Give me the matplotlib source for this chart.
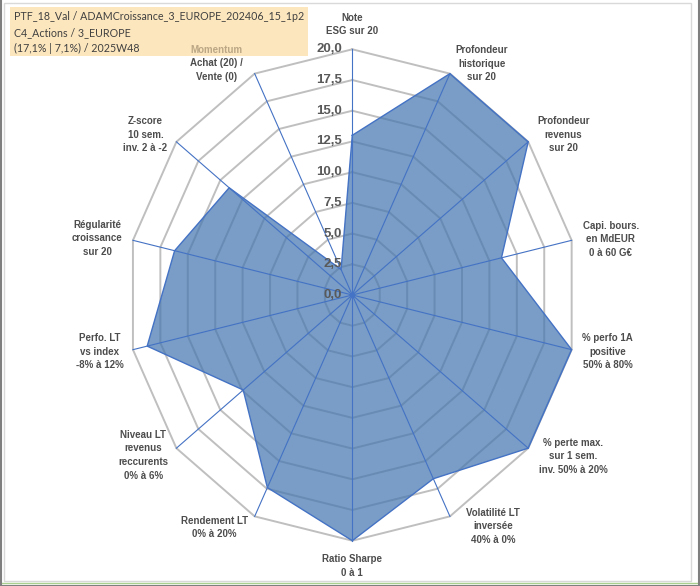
import numpy as np
import matplotlib
matplotlib.use('Agg')
import matplotlib.pyplot as plt
from matplotlib.patches import Rectangle
from matplotlib.lines import Line2D

# ---------------- data ----------------
categories = [
    "Note\nESG sur 20",
    "Profondeur\nhistorique\nsur 20",
    "Profondeur\nrevenus\nsur 20",
    "Capi. bours.\nen MdEUR\n0 à 60 G€",
    "% perfo 1A\npositive\n50% à 80%",
    "% perte max.\nsur 1 sem.\ninv. 50% à 20%",
    "Volatilité LT\ninversée\n40% à 0%",
    "Ratio Sharpe\n0 à 1",
    "Rendement LT\n0% à 20%",
    "Niveau LT\nrevenus\nreccurents\n0% à 6%",
    "Perfo. LT\nvs index\n-8% à 12%",
    "Régularité\ncroissance\nsur 20",
    "Z-score\n10 sem.\ninv. 2 à -2",
    "Momentum\nAchat (20) /\nVente (0)",
]
values = [13.0, 20.0, 20.0, 13.6, 20.0, 20.0, 16.6, 20.0, 17.4, 12.4, 18.7, 16.2, 14.0, 2.3]
ticks = [0.0, 2.5, 5.0, 7.5, 10.0, 12.5, 15.0, 17.5, 20.0]
tick_labels = ["0,0", "2,5", "5,0", "7,5", "10,0", "12,5", "15,0", "17,5", "20,0"]
title_lines = [
    "PTF_18_Val / ADAMCroissance_3_EUROPE_202406_15_1p2",
    "C4_Actions / 3_EUROPE",
    "(17,1% | 7,1%) / 2025W48",
]

# ---------------- layout ----------------
W, H = 700, 586
fig = plt.figure(figsize=(W / 100, H / 100), dpi=100)
fig.patch.set_facecolor('white')

# title box (behind everything)
fig.patches.append(Rectangle((10 / W, 1 - 56 / H), 298 / W, 49 / H, transform=fig.transFigure,
                             facecolor='#FCE6BE', edgecolor='none', zorder=-5))

cx, cy = 352.3, 295.0
rx, ry = 225.0, 245.7
ax = fig.add_axes([(cx - rx) / W, 1 - (cy + ry) / H, 2 * rx / W, 2 * ry / H],
                  projection='polar')
ax.set_zorder(1)
ax.set_aspect('auto')
ax.set_theta_zero_location('N')
ax.set_theta_direction(-1)
ax.set_ylim(0, 20)
ax.grid(False)
ax.set_xticks([])
ax.set_yticks([])
ax.spines['polar'].set_visible(False)
ax.patch.set_visible(False)

n = len(categories)
theta = np.arange(n) * 2 * np.pi / n
theta_c = np.append(theta, theta[0])

grid_col = '#BFBFBF'
axis_col = '#4472C4'
for r in ticks[1:]:
    ax.plot(theta_c, [r] * (n + 1), color=grid_col, lw=1.4, zorder=1, clip_on=False)

vals_c = np.append(values, values[0])
ax.fill(theta_c, vals_c, color='#4677B0', alpha=0.72, zorder=2, lw=0)
ax.plot(theta_c, vals_c, color=axis_col, lw=1.0, zorder=4, clip_on=False)

for t in theta:
    ax.plot([t, t], [0, 20], color=axis_col, lw=0.8, zorder=3, clip_on=False)
ax.plot([0], [0], marker='o', ms=3, color=axis_col, zorder=5)

# tick labels along the top axis
for r, lab in zip(ticks, tick_labels):
    ax.annotate(lab, xy=(0, r), xytext=(-10, 0), textcoords='offset pixels',
                ha='right', va='center', fontsize=9.5, fontweight='bold',
                color='#595959', family='Liberation Sans', annotation_clip=False, zorder=6)

# category labels (offsets in pixels from the axis end)
offsets = [(0, 25), (32, 10), (35, 7), (39, 1), (36, -2), (45, -8), (43, -10),
           (0, -25), (-40, -11), (-33, -7), (-33, -2), (-36, 2), (-31, 7), (-38, 10)]
lab_col = '#4D4D4D'
for i, (t, lab, off) in enumerate(zip(theta, categories, offsets)):
    if i == n - 1:
        first, rest = lab.split('\n', 1)
        ax.annotate(rest, xy=(t, 20), xytext=(off[0], off[1] - 6.5), textcoords='offset pixels',
                    ha='center', va='center', fontsize=7, fontweight='bold', color=lab_col,
                    family='Liberation Sans', annotation_clip=False, linespacing=1.45)
        ax.annotate(first, xy=(t, 20), xytext=(off[0], off[1] + 13.3), textcoords='offset pixels',
                    ha='center', va='center', fontsize=7, fontweight='bold', color='#BBA785',
                    family='Liberation Sans', annotation_clip=False, zorder=10)
    else:
        ax.annotate(lab, xy=(t, 20), xytext=off, textcoords='offset pixels',
                    ha='center', va='center', fontsize=7, fontweight='bold', color=lab_col,
                    family='Liberation Sans', annotation_clip=False, linespacing=1.45)

for k, line in enumerate(title_lines):
    fig.text(14 / W, 1 - (17 + 15.5 * k) / H, line, ha='left', va='center', fontsize=7.7,
             color='#404040', family='Lato', zorder=2)

# chart frame
fig.patches.append(Rectangle((4 / W, 1 - 581 / H), 687 / W, 578 / H, transform=fig.transFigure,
                             facecolor='none', edgecolor='#D9D9D9', lw=1.0, zorder=-4))
fig.lines.append(Line2D([0, 1], [1 - 583 / H] * 2, transform=fig.transFigure, color='#A9D08E', lw=1.0))
fig.lines.append(Line2D([0.5 / W] * 2, [0, 1], transform=fig.transFigure, color='#7F7F7F', lw=1.5))
fig.lines.append(Line2D([698.5 / W] * 2, [0, 1], transform=fig.transFigure, color='#7F7F7F', lw=1.5))
fig.lines.append(Line2D([0, 1], [1 - 585.5 / H] * 2, transform=fig.transFigure, color='#7F7F7F', lw=1.5))

fig.savefig('out.png', dpi=100)
